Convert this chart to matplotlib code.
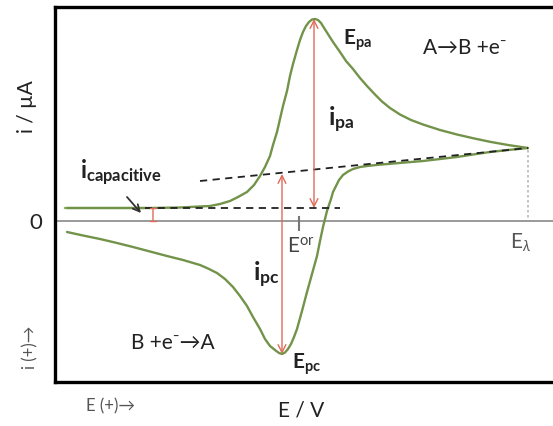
import matplotlib
matplotlib.use("Agg")
import matplotlib.pyplot as plt

plt.rcParams['font.family'] = ['Lato', 'DejaVu Sans']
plt.rcParams['mathtext.fontset'] = 'custom'
plt.rcParams['mathtext.rm'] = 'Lato'
plt.rcParams['mathtext.bf'] = 'Lato:bold'
plt.rcParams['mathtext.it'] = 'Lato:italic'

# forward (anodic) sweep, E in mV, i in uA
E_fwd = [12, 45, 95, 125, 155, 165, 175, 183, 192, 199, 205, 210, 215, 218, 222, 225,
         228, 232, 235, 238, 242, 245, 248, 251, 254, 257, 260, 263, 266, 271, 278,
         285, 291, 298, 305, 312, 320, 327, 335, 345, 356, 368, 385, 402, 418, 435,
         453, 473]
i_fwd = [1.3, 1.3, 1.3, 1.35, 1.5, 1.7, 2.0, 2.4, 2.9, 3.6, 4.5, 5.4, 6.5, 7.6, 8.9, 10.2,
         11.5, 13.0, 14.5, 15.7, 17.1, 18.1, 18.9, 19.5, 19.9, 20.15, 20.2, 20.1, 19.8, 19.0, 17.9,
         16.9, 16.0, 15.2, 14.3, 13.5, 12.65, 11.95, 11.3, 10.65, 10.1, 9.65, 9.1, 8.65, 8.28, 7.92,
         7.6, 7.3]

# reverse (cathodic) sweep
E_rev = [473, 453, 435, 418, 402, 385, 368, 350, 335, 323, 312, 305, 298, 293, 288, 284,
         281, 278, 276, 274, 272, 270, 268, 265, 262, 257, 252, 247, 242, 239, 236, 233,
         230, 227, 224, 220, 215, 210, 205, 198, 192, 185, 178, 170, 162, 153, 145, 128,
         112, 95, 78, 62, 45, 28, 12]
i_rev = [7.3, 7.1, 6.9, 6.65, 6.4, 6.2, 6.0, 5.85, 5.72, 5.62, 5.5, 5.4, 5.2, 4.95, 4.6, 4.1,
         3.5, 2.9, 2.2, 1.6, 1.0, 0.2, -0.6, -2.0, -3.5, -5.3, -7.1, -9.0, -10.8, -11.6, -12.3, -12.8,
         -13.15, -13.3, -13.2, -12.9, -12.5, -11.8, -10.8, -9.6, -8.5, -7.5, -6.6, -5.8, -5.2, -4.75, -4.4, -3.9,
         -3.5, -3.05, -2.6, -2.2, -1.8, -1.45, -1.1]

E_pa, i_pa = 259, 20.2
E_pc, i_pc = 227, -13.3
i_base = 1.3
E_switch, i_switch = 473, 7.3
E_or = 244

W, H = 553, 427


def fx(px):
    return px / W


def fy(py):
    return 1 - py / H


fig = plt.figure(figsize=(W / 100, H / 100), dpi=100)
ax = fig.add_axes([55 / W, 44 / H, 505 / W, 375 / H])
ax.set_xlim(0, 505)
ax.set_ylim(-16.1, 21.4)
for s in ['top', 'left', 'bottom']:
    ax.spines[s].set_linewidth(2.4)
    ax.spines[s].set_color('black')
ax.spines['right'].set_visible(False)
ax.set_xticks([])
ax.set_yticks([])

ax.axhline(0, color='#9a9a9a', lw=1.4, zorder=1)

# baselines
ax.plot([10, 90], [i_base, i_base], color='#8fb060', lw=1.6, zorder=2)
ax.plot([90, 285], [i_base, i_base], color='#222222', lw=1.3, ls=(0, (4, 3)), zorder=4)
ax.plot([145, E_switch], [4.0, i_switch], color='#222222', lw=1.3, ls=(0, (4, 3)), zorder=4)
ax.plot([E_switch, E_switch], [i_switch - 0.2, 0.2], color='#b8b8b8', lw=1.2, ls=(0, (1.5, 1.5)))

ax.plot(E_fwd, i_fwd, color='#729349', lw=1.7, zorder=3, solid_capstyle='round',
        solid_joinstyle='round')
ax.plot(E_rev, i_rev, color='#729349', lw=1.7, zorder=3, solid_capstyle='round',
        solid_joinstyle='round')

red = '#e06a5a'
ax.annotate('', xy=(E_pa, i_pa), xytext=(E_pa, i_base),
            arrowprops=dict(arrowstyle='<->', color=red, lw=1.0, mutation_scale=14,
                            shrinkA=0, shrinkB=0), zorder=5)
ax.annotate('', xy=(E_pc, 4.7), xytext=(E_pc, i_pc),
            arrowprops=dict(arrowstyle='<->', color=red, lw=1.0, mutation_scale=14,
                            shrinkA=0, shrinkB=0), zorder=5)
ax.annotate('', xy=(98, i_base), xytext=(98, 0),
            arrowprops=dict(arrowstyle='|-|, widthA=0.25, widthB=0.25', color=red, lw=1.0,
                            shrinkA=0, shrinkB=0), zorder=5)
ax.annotate('', xy=(86, 0.8), xytext=(72, 2.4),
            arrowprops=dict(arrowstyle='->', color='#333333', lw=1.3, mutation_scale=12,
                            shrinkA=0, shrinkB=0))
ax.plot([E_or, E_or], [0.4, -0.9], color='#777777', lw=1.5)

txt = '#222222'
ax.text(288, 18.2, r'$\mathbf{E}_{\mathbf{pa}}$', fontsize=15, color=txt, va='center')
ax.text(410, 17.4, 'A→B +e⁻', fontsize=15, color=txt, ha='center', va='center')
ax.text(273, 10.2, r'$\mathbf{i}_{\mathbf{pa}}$', fontsize=18, color=txt, va='center')
ax.text(25, 5.0, r'$\mathbf{i}_{\mathbf{capacitive}}$', fontsize=17, color=txt, va='center')
ax.text(198, -5.3, r'$\mathbf{i}_{\mathbf{pc}}$', fontsize=18, color=txt, va='center')
ax.text(237, -14.2, r'$\mathbf{E}_{\mathbf{pc}}$', fontsize=15, color=txt, va='center')
ax.text(118, -12.1, 'B +e⁻→A', fontsize=15, color=txt, ha='center', va='center')
ax.text(232, -2.5, r'$\mathrm{E}^{\mathrm{or}}$', fontsize=15, color='#444444', va='center')
ax.text(455, -2.1, r'$\mathrm{E}_{\lambda}$', fontsize=15, color='#555555', va='center')

fig.text(fx(36), fy(223), '0', fontsize=16, color=txt, ha='center', va='center')
fig.text(fx(27), fy(107), 'i / µA', fontsize=15, color=txt, ha='center', va='center', rotation=90)
fig.text(fx(30), fy(347), 'i (+)→', fontsize=12, color='#555555', ha='center', va='center', rotation=90)
fig.text(fx(110), fy(406), 'E (+)→', fontsize=12, color='#555555', ha='center', va='center')
fig.text(fx(301), fy(411), 'E / V', fontsize=15, color=txt, ha='center', va='center')

fig.savefig('out.png', dpi=100)
